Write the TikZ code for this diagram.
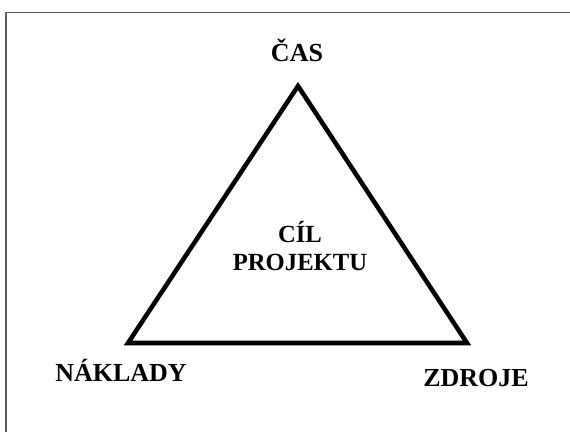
\documentclass[tikz,border=0pt]{standalone}
\usepackage{fontspec}
\setmainfont{Liberation Serif}
\usepackage{tikz}
\usetikzlibrary{positioning,calc}
\definecolor{frame}{HTML}{5A5A5A}
\tikzset{
  cornerlabel/.style={
    font=\fontsize{19.5}{22}\selectfont\bfseries, inner sep=0pt, anchor=base
  },
  goallabel/.style={
    font=\fontsize{18.5}{21}\selectfont\bfseries, align=center, inner sep=0pt
  },
  triedge/.style={
    line width=3.4pt, color=black
  },
  frameline/.style={
    line width=1.1pt, color=frame
  },
}
\begin{document}
\begin{tikzpicture}[x=0.75pt,y=-0.75pt]
  \useasboundingbox (0,0) rectangle (570,432);
  % Frame (only top and left edges visible)
  \coordinate (fbl) at (6,432);
  \coordinate (ftl) at (6,12.5);
  \coordinate (ftr) at (570,12.5);
  \draw[frameline] (fbl) -- (ftl) -- (ftr);

  % Triangle corners
  \coordinate (cas) at (298,86);
  \coordinate (naklady) at (128,343);
  \coordinate (zdroje) at (467,343);
  \draw[triedge] (cas) -- (naklady) -- (zdroje) -- cycle;

  % Labels
  \node[cornerlabel] (lcas) at (297,61) {ČAS};
  \node[cornerlabel] (lnaklady) at (121,381) {NÁKLADY};
  \node[cornerlabel] (lzdroje) at (476,386) {ZDROJE};
  \node[goallabel] (goal) at (300,246) {CÍL\\PROJEKTU};
\end{tikzpicture}
\end{document}
